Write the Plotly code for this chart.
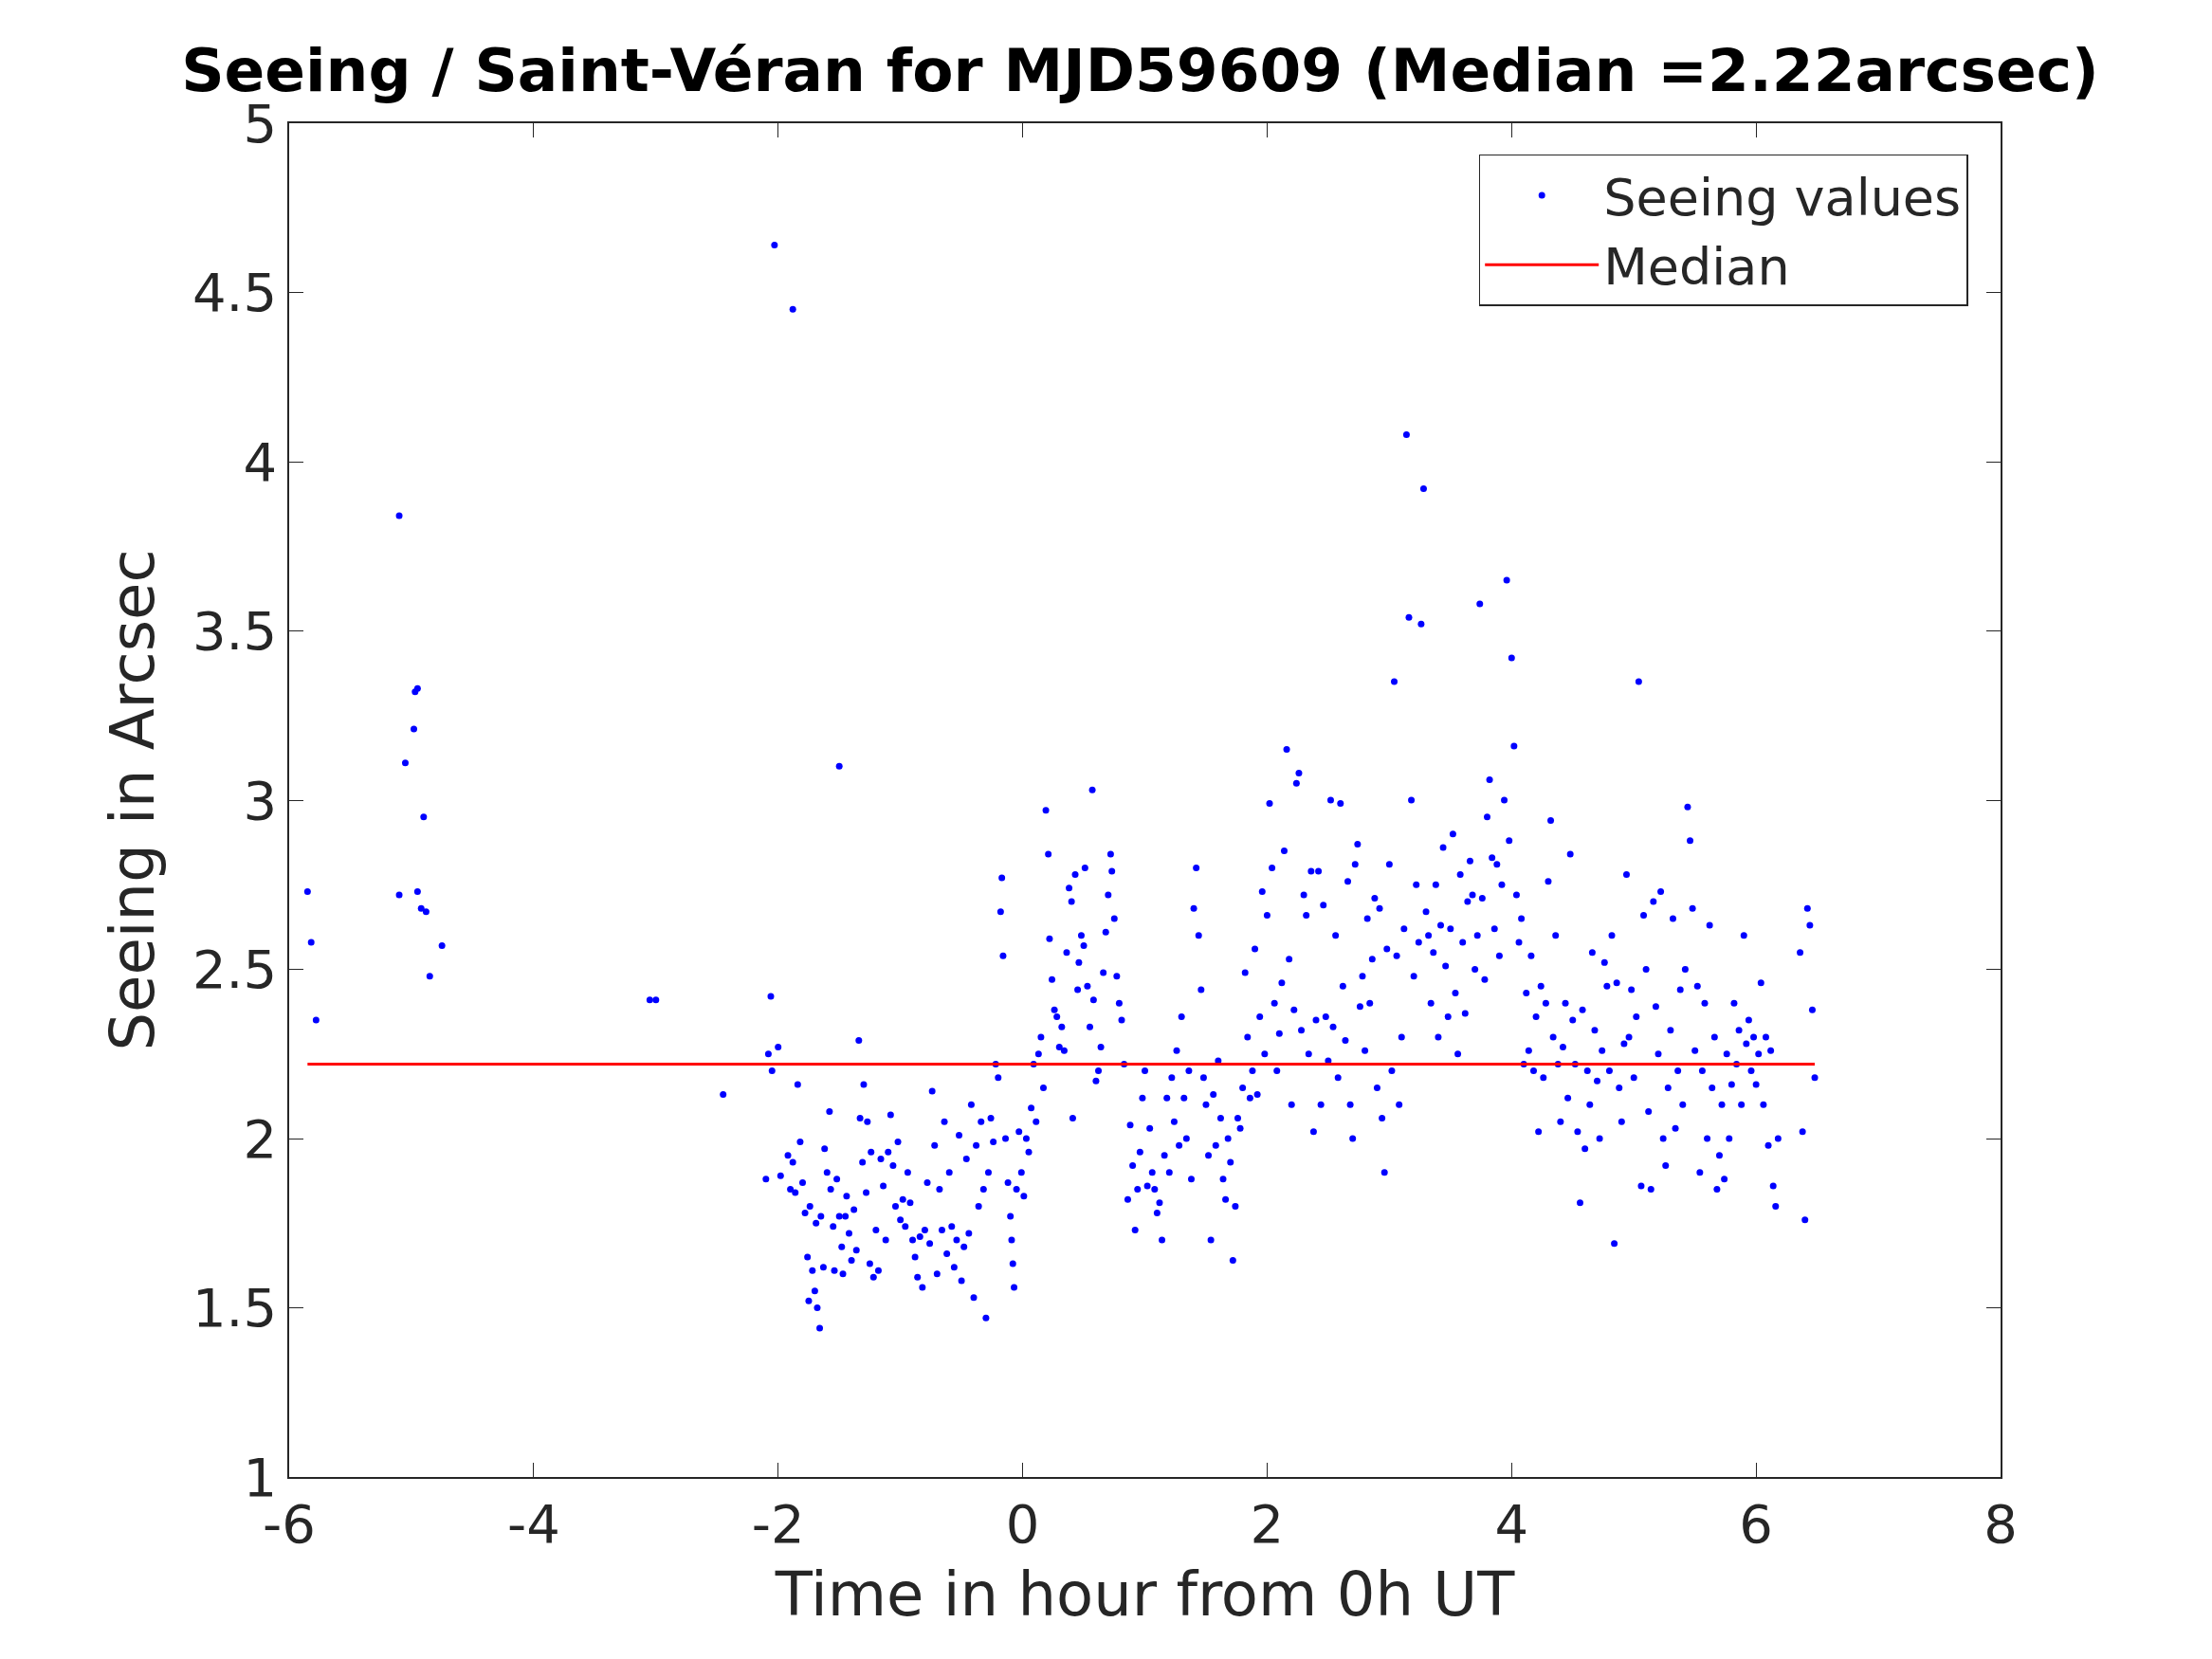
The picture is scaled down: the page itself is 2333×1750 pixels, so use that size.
import plotly.graph_objects as go

pairs = """
-5.85 2.73 -5.82 2.58 -5.78 2.35 -5.1 3.84 -5.1 2.72 -5.05 3.11 -4.98 3.21 -4.97 3.32 -4.95 3.33
-4.95 2.73 -4.92 2.68 -4.9 2.95 -4.88 2.67 -4.85 2.48 -4.75 2.57 -3.05 2.41 -3.0 2.41 -2.45 2.13
-2.1 1.88 -2.08 2.25 -2.06 2.42 -2.05 2.2 -2.03 4.64 -2.0 2.27 -1.98 1.89 -1.88 4.45 -1.5 3.1
-1.92 1.95 -1.9 1.85 -1.88 1.93 -1.86 1.84 -1.84 2.16 -1.82 1.99 -1.8 1.87 -1.78 1.78 -1.76 1.65
-1.75 1.52 -1.74 1.8 -1.72 1.61 -1.7 1.55 -1.69 1.75 -1.68 1.5 -1.66 1.44 -1.65 1.77 -1.63 1.62
-1.62 1.97 -1.6 1.9 -1.58 2.08 -1.57 1.85 -1.55 1.74 -1.54 1.61 -1.52 1.88 -1.5 1.77 -1.48 1.68
-1.47 1.6 -1.45 1.77 -1.44 1.83 -1.42 1.72 -1.4 1.64 -1.38 1.79 -1.36 1.67 -1.34 2.29 -1.33 2.06
-1.31 1.93 -1.3 2.16 -1.28 1.84 -1.27 2.05 -1.25 1.63 -1.24 1.96 -1.22 1.59 -1.2 1.73 -1.18 1.61
-1.16 1.94 -1.14 1.86 -1.12 1.7 -1.1 1.96 -1.08 2.07 -1.06 1.92 -1.04 1.8 -1.02 1.99 -1.0 1.76
-0.98 1.82 -0.96 1.74 -0.94 1.9 -0.92 1.81 -0.9 1.7 -0.88 1.65 -0.86 1.59 -0.84 1.71 -0.82 1.56
-0.8 1.73 -0.78 1.87 -0.76 1.69 -0.74 2.14 -0.72 1.98 -0.7 1.6 -0.68 1.85 -0.66 1.73 -0.64 2.05
-0.62 1.66 -0.6 1.9 -0.58 1.74 -0.56 1.62 -0.54 1.7 -0.52 2.01 -0.5 1.58 -0.48 1.68 -0.46 1.94
-0.44 1.72 -0.42 2.1 -0.4 1.53 -0.38 1.98 -0.36 1.8 -0.34 2.05 -0.32 1.85
-0.3 1.47 -0.28 1.9 -0.26 2.06 -0.24 1.99 -0.22 2.22 -0.2 2.18 -0.18 2.67 -0.17 2.77 -0.16 2.54
-0.14 2.0 -0.12 1.87 -0.1 1.77 -0.09 1.7 -0.08 1.63 -0.07 1.56 -0.05 1.85 -0.03 2.02 -0.01 1.9
0.01 1.83 0.03 2.0 0.05 1.96 0.07 2.09 0.09 2.22
0.11 2.05 0.13 2.25 0.15 2.3 0.17 2.15 0.19 2.97 0.21 2.84 0.22 2.59 0.24 2.47 0.26 2.38 0.28 2.36
0.3 2.27 0.32 2.33 0.34 2.26 0.36 2.55 0.38 2.74 0.4 2.7 0.41 2.06 0.43 2.78 0.45 2.44 0.46 2.52
0.48 2.6 0.5 2.57 0.51 2.8 0.53 2.45 0.55 2.33 0.57 3.03 0.58 2.41 0.6 2.17 0.62 2.2 0.64 2.27
0.66 2.49 0.68 2.61 0.7 2.72 0.72 2.84 0.73 2.79 0.75 2.65 0.77 2.48 0.79 2.4 0.81 2.35 0.83 2.22
0.86 1.82 0.88 2.04 0.9 1.92 0.92 1.73 0.94 1.85 0.96 1.96 0.98 2.12 1.0 2.2 1.02 1.86 1.04 2.03
1.06 1.9 1.08 1.85 1.1 1.78 1.12 1.81 1.14 1.7 1.16 1.95 1.18 2.12 1.2 1.9 1.22 2.18 1.24 2.05
1.26 2.26 1.28 1.98 1.3 2.36 1.32 2.12 1.34 2.0 1.36 2.2 1.38 1.88 1.4 2.68 1.42 2.8 1.44 2.6
1.46 2.44 1.48 2.18 1.5 2.1 1.52 1.95 1.54 1.7 1.56 2.13 1.58 1.98 1.6 2.23 1.62 2.06 1.64 1.88
1.66 1.82 1.68 2.0 1.7 1.93 1.72 1.64 1.74 1.8 1.76 2.06 1.78 2.03 1.8 2.15
1.82 2.49 1.84 2.3 1.86 2.12 1.88 2.2 1.9 2.56 1.92 2.13 1.94 2.36 1.96 2.73 1.98 2.25 2.0 2.66
2.02 2.99 2.04 2.8 2.06 2.4 2.08 2.2 2.1 2.31 2.12 2.46 2.14 2.85 2.16 3.15 2.18 2.53 2.2 2.1
2.22 2.38 2.24 3.05 2.26 3.08 2.28 2.32 2.3 2.72 2.32 2.66 2.34 2.25 2.36 2.79 2.38 2.02 2.4 2.35
2.42 2.79 2.44 2.1 2.46 2.69 2.48 2.36 2.5 2.23 2.52 3.0 2.54 2.33 2.56 2.6 2.58 2.18 2.6 2.99
2.62 2.45 2.64 2.29 2.66 2.76 2.68 2.1 2.7 2.0 2.72 2.81 2.74 2.87 2.76 2.39 2.78 2.48 2.8 2.26
2.82 2.65 2.84 2.4 2.86 2.53 2.88 2.71 2.9 2.15 2.92 2.68 2.94 2.06 2.96 1.9 2.98 2.56
3.0 2.81 3.02 2.2 3.04 3.35 3.06 2.54 3.08 2.1 3.1 2.3 3.12 2.62 3.14 4.08 3.16 3.54 3.18 3.0
3.2 2.48 3.22 2.75 3.24 2.58 3.26 3.52 3.28 3.92 3.3 2.67 3.32 2.6 3.34 2.4 3.36 2.55 3.38 2.75
3.4 2.3 3.42 2.63 3.44 2.86 3.46 2.51 3.48 2.36 3.5 2.62 3.52 2.9 3.54 2.43 3.56 2.25 3.58 2.78
3.6 2.58 3.62 2.37 3.64 2.7 3.66 2.82 3.68 2.72 3.7 2.5 3.72 2.6 3.74 3.58 3.76 2.71 3.78 2.47
3.8 2.95 3.82 3.06 3.84 2.83 3.86 2.62 3.88 2.81 3.9 2.54 3.92 2.75 3.94 3.0 3.96 3.65 3.98 2.88
4.0 3.42 4.02 3.16 4.04 2.72 4.06 2.58 4.08 2.65 4.1 2.22 4.12 2.43 4.14 2.26 4.16 2.54 4.18 2.2
4.2 2.36 4.22 2.02 4.24 2.45 4.26 2.18 4.28 2.4 4.3 2.76 4.32 2.94 4.34 2.3 4.36 2.6 4.38 2.22
4.4 2.05 4.42 2.27 4.44 2.4 4.46 2.12 4.48 2.84 4.5 2.35 4.52 2.22 4.54 2.02 4.56 1.81 4.58 2.38
4.6 1.97 4.62 2.2 4.64 2.1 4.66 2.55 4.68 2.32 4.7 2.17 4.72 2.0 4.74 2.26 4.76 2.52 4.78 2.45
4.8 2.2 4.82 2.6 4.84 1.69 4.86 2.46 4.88 2.15 4.9 2.05 4.92 2.28 4.94 2.78 4.96 2.3 4.98 2.44
5.0 2.18 5.02 2.36 5.04 3.35 5.06 1.86 5.08 2.66 5.1 2.5 5.12 2.08 5.14 1.85 5.16 2.7 5.18 2.39
5.2 2.25 5.22 2.73 5.24 2.0 5.26 1.92 5.28 2.15 5.3 2.32 5.32 2.65 5.34 2.03 5.36 2.2 5.38 2.44
5.4 2.1 5.42 2.5 5.44 2.98 5.46 2.88 5.48 2.68 5.5 2.26 5.52 2.45 5.54 1.9 5.56 2.2 5.58 2.4
5.6 2.0 5.62 2.63 5.64 2.15 5.66 2.3 5.68 1.85 5.7 1.95 5.72 2.1 5.74 1.88 5.76 2.25 5.78 2.0
5.8 2.16 5.82 2.4 5.84 2.22 5.86 2.32 5.88 2.1 5.9 2.6 5.92 2.28 5.94 2.35 5.96 2.2 5.98 2.3
6.0 2.16 6.02 2.25 6.04 2.46 6.06 2.1 6.08 2.3 6.1 1.98 6.12 2.26 6.14 1.86 6.16 1.8 6.18 2.0
6.36 2.55 6.38 2.02 6.42 2.68 6.4 1.76 6.44 2.63 6.46 2.38 6.48 2.18
"""
nums = [float(v) for v in pairs.split()]
hours = nums[0::2]
seeing = nums[1::2]

median_value = 2.22
median_hours = [min(hours), max(hours)]

x_ticks = [-6, -4, -2, 0, 2, 4, 6, 8]
y_ticks = [1, 1.5, 2, 2.5, 3, 3.5, 4, 4.5, 5]

fig = go.Figure()
fig.add_scatter(x=hours, y=seeing, mode="markers", name="Seeing values",
                marker=dict(color="#0000ff", size=7))
fig.add_scatter(x=median_hours, y=[median_value, median_value], mode="lines", name="Median",
                line=dict(color="#ff0000", width=3))

axis = dict(showgrid=False, zeroline=False, showline=True, linecolor="#262626", linewidth=1.5,
            mirror="ticks", ticks="inside", ticklen=15, tickcolor="#262626",
            tickfont=dict(size=56, color="#262626"))
fig.update_layout(
    width=2333, height=1750, plot_bgcolor="white", paper_bgcolor="white",
    font=dict(family="DejaVu Sans", color="#262626"),
    margin=dict(l=297, r=231, t=122, b=200),
    title=dict(text="<b>Seeing / Saint-Véran for MJD59609 (Median =2.22arcsec)</b>",
               x=0.512, xanchor="center", y=1 - 66 / 1750, yanchor="middle", font=dict(size=63, color="black")),
    xaxis=dict(axis, range=[-6, 8], tickvals=x_ticks, ticktext=[str(v) for v in x_ticks],
               title=dict(text="Time in hour from 0h UT", font=dict(size=64), standoff=20)),
    yaxis=dict(axis, range=[1, 5], tickvals=y_ticks, ticktext=[f"{v:g}" for v in y_ticks],
               title=dict(text="Seeing in Arcsec", font=dict(size=64), standoff=20)),
    legend=dict(x=0.981, xanchor="right", y=0.977, yanchor="top", bgcolor="white",
                bordercolor="#262626", borderwidth=1.5, font=dict(size=54), itemwidth=120),
)
fig.write_html("out.html")
